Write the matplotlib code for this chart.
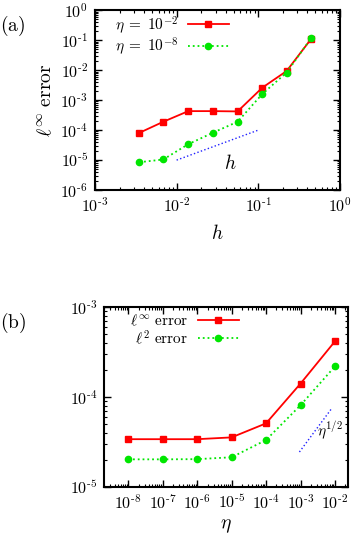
import matplotlib
matplotlib.use("Agg")
import matplotlib.pyplot as plt
from matplotlib.ticker import LogLocator, FuncFormatter, NullFormatter
import numpy as np

# dados do painel (a): erro em funcao de h
h = [0.00349, 0.00687, 0.0139, 0.0281, 0.0558, 0.112, 0.222, 0.442]
err_eta2 = [8.1e-5, 1.9e-4, 4.3e-4, 4.3e-4, 4.2e-4, 2.6e-3, 9.3e-3, 0.108]
err_eta8 = [8.5e-6, 1.05e-5, 3.4e-5, 8.3e-5, 1.9e-4, 1.6e-3, 8.3e-3, 0.114]
h_ref = [0.01, 0.1]
h_ref_val = [1e-5, 1e-4]

# dados do painel (b): erro em funcao de eta
eta = [1e-8, 1e-7, 1e-6, 1e-5, 1e-4, 1e-3, 1e-2]
err_inf = [3.4e-5, 3.4e-5, 3.4e-5, 3.56e-5, 5.1e-5, 1.41e-4, 4.16e-4]
err_l2 = [2.03e-5, 2.03e-5, 2.04e-5, 2.14e-5, 3.33e-5, 8.1e-5, 2.19e-4]
eta_ref = [9.3e-4, 7.9e-3]
eta_ref_val = [2.45e-5, 7.4e-5]

plt.rcParams['mathtext.fontset'] = 'cm'
plt.rcParams['font.family'] = 'serif'
plt.rcParams['font.size'] = 11

RED = '#ff0000'
GREEN = '#00e600'
BLUE = '#2020ff'


def pow10(v, pos):
    e = int(round(np.log10(v)))
    if e < 0:
        return r'$10^{\text{-}%d}$' % (-e)
    return r'$10^{%d}$' % e


def style_axes(ax):
    for s in ax.spines.values():
        s.set_linewidth(1.5)
    ax.tick_params(which='both', direction='in', top=True, right=True, labelsize=11.5, pad=5)
    ax.tick_params(which='major', length=5, width=1)
    ax.tick_params(which='minor', length=2.5, width=0.8)
    ax.xaxis.set_major_formatter(FuncFormatter(pow10))
    ax.yaxis.set_major_formatter(FuncFormatter(pow10))
    ax.xaxis.set_minor_formatter(NullFormatter())
    ax.yaxis.set_minor_formatter(NullFormatter())


fig = plt.figure(figsize=(3.53, 5.34), dpi=100)

# painel (a)
ax1 = fig.add_axes([0.269, 0.644, 0.694, 0.337])
ax1.set_xscale('log')
ax1.set_yscale('log')
ax1.plot(h, err_eta2, '-s', color=RED, lw=1.3, ms=5, label=r'$\eta\;=\;10^{-2}$')
ax1.plot(h, err_eta8, ':o', color=GREEN, lw=1.3, ms=4.5, label=r'$\eta\;=\;10^{-8}$')
ax1.plot(h_ref, h_ref_val, ':', color=BLUE, lw=1.0)
ax1.text(0.045, 7.5e-6, r'$h$', fontsize=14, ha='center', va='center')
ax1.set_xlim(1e-3, 1)
ax1.set_ylim(1e-6, 1)
ax1.xaxis.set_major_locator(LogLocator(base=10, numticks=10))
ax1.yaxis.set_major_locator(LogLocator(base=10, numticks=10))
ax1.xaxis.set_minor_locator(LogLocator(base=10, subs=np.arange(2, 10), numticks=10))
ax1.yaxis.set_minor_locator(LogLocator(base=10, subs=np.arange(2, 10), numticks=10))
style_axes(ax1)
ax1.set_xlabel(r'$h$', fontsize=14, labelpad=6)
ax1.set_ylabel(r'$\ell^{\infty}\ \mathrm{error}$', fontsize=14, labelpad=4)
ax1.legend(loc='upper left', bbox_to_anchor=(0.025, 1.055), frameon=False, markerfirst=False,
           handlelength=2.7, handletextpad=0.6, labelspacing=0.0, fontsize=11)

# painel (b)
ax2 = fig.add_axes([0.295, 0.088, 0.691, 0.337])
ax2.set_xscale('log')
ax2.set_yscale('log')
ax2.plot(eta, err_inf, '-s', color=RED, lw=1.3, ms=5, label=r'$\ell^{\infty}\ \mathrm{error}$')
ax2.plot(eta, err_l2, ':o', color=GREEN, lw=1.3, ms=4.5, label=r'$\ell^{2}\ \mathrm{error}$')
ax2.plot(eta_ref, eta_ref_val, ':', color=BLUE, lw=1.0)
ax2.text(3.0e-3, 4.3e-5, r'$\eta^{1/2}$', fontsize=11, ha='left', va='center')
ax2.set_xlim(2e-9, 0.024)
ax2.set_ylim(1e-5, 1e-3)
ax2.xaxis.set_major_locator(LogLocator(base=10, numticks=12))
ax2.yaxis.set_major_locator(LogLocator(base=10, numticks=10))
ax2.xaxis.set_minor_locator(LogLocator(base=10, subs=np.arange(2, 10), numticks=12))
ax2.yaxis.set_minor_locator(LogLocator(base=10, subs=np.arange(2, 10), numticks=10))
style_axes(ax2)
ax2.set_xlabel(r'$\eta$', fontsize=14, labelpad=3)
ax2.legend(loc='upper left', bbox_to_anchor=(0.05, 1.045), frameon=False, markerfirst=False,
           handlelength=2.7, handletextpad=0.6, labelspacing=0.0, fontsize=11)

fig.text(0.0, 0.951, r'$\mathrm{(a)}$', fontsize=14, ha='left', va='center')
fig.text(0.0, 0.395, r'$\mathrm{(b)}$', fontsize=14, ha='left', va='center')

fig.savefig('out.png', dpi=100)
